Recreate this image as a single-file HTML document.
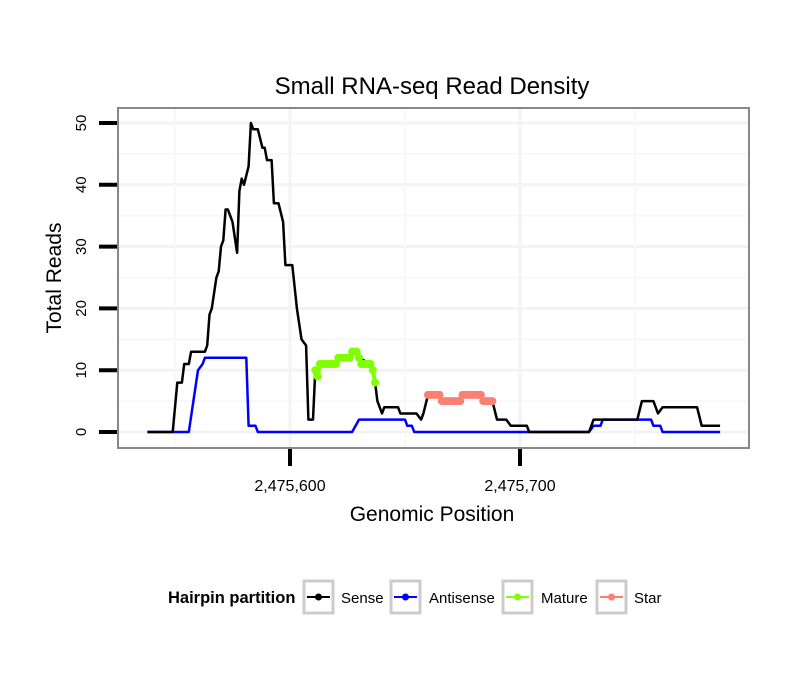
<!DOCTYPE html>
<html><head><meta charset="utf-8"><style>
body{margin:0;background:#fff;}
svg{display:block;font-family:"Liberation Sans",sans-serif;}
</style></head><body>
<svg id="chart" width="810" height="690">
<rect x="0" y="0" width="810" height="690" fill="#fff"/>
<g id="grid"></g>
<g id="series"></g>
<rect x="118" y="108" width="631" height="340" fill="none" stroke="#888" stroke-width="2"/>
<g id="axes"></g>
<text x="432" y="94" text-anchor="middle" font-size="24" fill="#000">Small RNA-seq Read Density</text>
<text x="432" y="521" text-anchor="middle" font-size="21" fill="#000">Genomic Position</text>
<text transform="translate(61,278) rotate(-90)" text-anchor="middle" font-size="21" fill="#000">Total Reads</text>
<g>
<text x="168" y="603" font-size="16.5" font-weight="bold">Hairpin partition</text>
<g><rect x="304" y="581" width="29" height="32" fill="#fff" stroke="#ccc" stroke-width="3"/><line x1="307" y1="597" x2="330" y2="597" stroke="#000" stroke-width="2"/><circle cx="318.5" cy="597" r="3.5" fill="#000"/><text x="341" y="603" font-size="15">Sense</text></g>
<g><rect x="391" y="581" width="29" height="32" fill="#fff" stroke="#ccc" stroke-width="3"/><line x1="394" y1="597" x2="417" y2="597" stroke="#0000ff" stroke-width="2"/><circle cx="405.5" cy="597" r="3.5" fill="#0000ff"/><text x="429" y="603" font-size="15">Antisense</text></g>
<g><rect x="503" y="581" width="29" height="32" fill="#fff" stroke="#ccc" stroke-width="3"/><line x1="506" y1="597" x2="529" y2="597" stroke="#7fff00" stroke-width="2"/><circle cx="517.5" cy="597" r="3.5" fill="#7fff00"/><text x="541" y="603" font-size="15">Mature</text></g>
<g><rect x="597" y="581" width="29" height="32" fill="#fff" stroke="#ccc" stroke-width="3"/><line x1="600" y1="597" x2="623" y2="597" stroke="#fa8072" stroke-width="2"/><circle cx="611.5" cy="597" r="3.5" fill="#fa8072"/><text x="634" y="603" font-size="15">Star</text></g>
</g>
</svg>
<script>
const BASE = 2475600;
const senseOffsets = [-62,-51,-49,-47,-46,-44,-43,-37,-36,-35,-34,-32,-31,-30,-29,-28,-27,-25,-23,-22,-21,-20,-18,-17,-16,-14,-12,-11,-10,-8,-7,-5,-3,-2,1,3,5,7,8,10,11,12,13,20,21,26,27,29,30,35,36,37,38,40,41,47,48,55,57,58,60,65,66,74,75,83,84,88,90,94,96,103,104,130,132,151,153,158,160,162,177,179,187];
const senseValues  = [0,0,8,8,11,11,13,13,14,19,20,25,26,30,31,36,36,34,29,39,41,40,43,50,49,49,46,46,44,44,37,37,34,27,27,20,15,14,2,2,10,9,11,11,12,12,13,13,12,11,10,8,5,3,4,4,3,3,2,3,6,6,5,5,6,6,5,5,2,2,1,1,0,0,2,2,5,5,3,4,4,1,1];
const antiOffsets = [-62,-44,-42,-40,-38,-37,-19,-18,-15,-14,27,30,50,51,53,54,130,132,135,136,157,158,161,162,187];
const antiValues  = [0,0,5,10,11,12,12,1,1,0,0,2,2,1,1,0,0,1,1,2,2,1,1,0,0];
const matureOffsets = [11,12,13,14,15,16,17,18,19,20,21,22,23,24,25,26,27,28,29,30,31,32,33,34,35,36,37];
const matureValues  = [10,9,11,11,11,11,11,11,11,11,12,12,12,12,12,12,13,13,13,12,11,11,11,11,11,10,8];
const starOffsets = [60,61,62,63,64,65,66,67,68,69,70,71,72,73,74,75,76,77,78,79,80,81,82,83,84,85,86,87,88];
const starValues  = [6,6,6,6,6,6,5,5,5,5,5,5,5,5,5,6,6,6,6,6,6,6,6,6,5,5,5,5,5];
const yTicks = [0,10,20,30,40,50];
const xTicks = [2475600,2475700];
const xTickLabels = ["2,475,600","2,475,700"];

const NS = "http://www.w3.org/2000/svg";
const xs = p => 290 + (p - 2475600) * 2.3;
const ys = v => 432 - v * 6.18;
function mk(tag, attrs, parent){const e=document.createElementNS(NS,tag);for(const k in attrs)e.setAttribute(k,attrs[k]);parent.appendChild(e);return e;}
const grid=document.getElementById('grid'), series=document.getElementById('series'), axes=document.getElementById('axes');
for(let v=-5; v<=55; v+=5){const y=ys(v); if(y<109||y>447)continue;
  const l=mk('line',{x1:119,x2:748,y1:y,y2:y,stroke:v%10===0?'#f3f3f3':'#f8f8f8','stroke-width':v%10===0?3:2},grid);
  
  }
for(let p=2475550;p<=2475800;p+=50){const x=xs(p); if(x<119||x>748)continue;
  const l=mk('line',{x1:x,x2:x,y1:109,y2:447,stroke:p%100===0?'#f3f3f3':'#f8f8f8','stroke-width':p%100===0?3:2},grid);
  
  }
yTicks.forEach(v=>{const y=ys(v);
  const t=mk('line',{x1:99,x2:117,y1:y,y2:y,stroke:'#000','stroke-width':4},axes);
  
  
  const tx=mk('text',{transform:`translate(86,${y}) rotate(-90)`,'text-anchor':'middle','font-size':15},axes);
  tx.textContent=v;
  
  });
xTicks.forEach((p,i)=>{const x=xs(p);
  const t=mk('line',{x1:x,x2:x,y1:449,y2:466,stroke:'#000','stroke-width':4},axes);
  
  
  const tx=mk('text',{x:x,y:491,'text-anchor':'middle','font-size':16},axes);
  tx.textContent=xTickLabels[i];
  
  });
function line(offs, vals, color, name, w){
  const d=offs.map((o,i)=>(i?'L':'M')+xs(BASE+o).toFixed(1)+','+ys(vals[i]).toFixed(1)).join('');
  const p=mk('path',{d:d,fill:'none',stroke:color,'stroke-width':w,'stroke-linejoin':'round'},series);
  
  
}
function dots(offs, vals, color, name){
  offs.forEach((o,i)=>{const c=mk('circle',{cx:xs(BASE+o),cy:ys(vals[i]),r:4,fill:color},series);
    
    });
}
line(antiOffsets, antiValues, '#0000ff', 'antisense-line', 2.5);
line(senseOffsets, senseValues, '#000', 'sense-line', 2.5);
line(matureOffsets, matureValues, '#7fff00', 'mature-line', 4);
dots(matureOffsets, matureValues, '#7fff00', 'mature-point');
line(starOffsets, starValues, '#fa8072', 'star-line', 4);
dots(starOffsets, starValues, '#fa8072', 'star-point');
</script>
</body></html>
